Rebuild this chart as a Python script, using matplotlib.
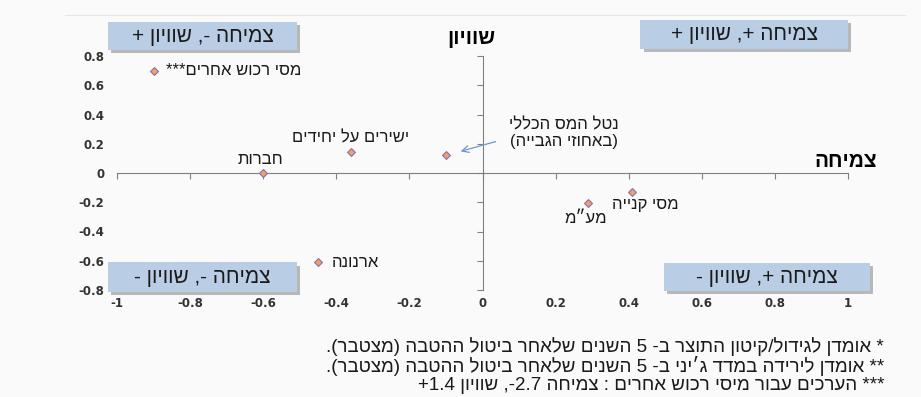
import re
import matplotlib
matplotlib.use("Agg")
import matplotlib.pyplot as plt
import matplotlib.patheffects as pe
from matplotlib.patches import Rectangle
from matplotlib.lines import Line2D

plt.rcParams['font.family'] = ['Liberation Sans', 'DejaVu Sans']

# data: growth (x) vs equality (y)
labels = ["מסי רכוש אחרים***", "ישירים על יחידים", "חברות", "נטל המס הכללי",
          "ארנונה", "מסי קנייה", "מע״מ"]
growth = [-0.90, -0.36, -0.60, -0.10, -0.45, 0.41, 0.29]
equality = [0.70, 0.145, 0.0, 0.12, -0.61, -0.13, -0.205]

xticks = [-1, -0.8, -0.6, -0.4, -0.2, 0, 0.2, 0.4, 0.6, 0.8, 1]
yticks = [-0.8, -0.6, -0.4, -0.2, 0, 0.2, 0.4, 0.6, 0.8]

quadrants = ["צמיחה -, שוויון +", "צמיחה +, שוויון +",
             "צמיחה -, שוויון -", "צמיחה +, שוויון -"]
notes = ["* אומדן לגידול/קיטון התוצר ב- 5 השנים שלאחר ביטול ההטבה (מצטבר).",
         "** אומדן לירידה במדד ג׳יני ב- 5 השנים שלאחר ביטול ההטבה (מצטבר).",
         "*** הערכים עבור מיסי רכוש אחרים : צמיחה -2.7, שוויון +1.4"]


def vis(s):
    # crude logical -> visual order for hebrew text (numbers kept LTR)
    lines = []
    for line in s.split("\n"):
        parts = re.split(r'([+-]?\d+(?:\.\d+)?)', line)
        out = []
        for i, p in enumerate(parts):
            if i % 2 == 1:
                out.append(p)
            else:
                out.append(p[::-1].translate(str.maketrans('()', ')(')))
        lines.append(''.join(reversed(out)))
    return "\n".join(lines)


bg = '#fafafa'
fig = plt.figure(figsize=(9.21, 3.97), dpi=100, facecolor=bg)
ax = fig.add_axes([117/921, 1-290/397, 731/921, 234/397], facecolor=bg)

ax.scatter(growth, equality, marker='D', s=16, fc='#f2a064', ec='#8470b0', lw=0.8, zorder=3)

ax.set_xlim(-1, 1)
ax.set_ylim(-0.8, 0.8)
for s in ['top', 'right']:
    ax.spines[s].set_visible(False)
ax.spines['bottom'].set_position(('data', 0))
ax.spines['left'].set_position(('data', 0))
ax.spines['bottom'].set_color('#808080')
ax.spines['left'].set_color('#808080')
ax.set_xticks(xticks)
ax.set_yticks(yticks)
ax.tick_params(direction='out', length=4, color='#808080', labelbottom=False, labelleft=False)

# tick labels at the outer edges (Excel "low" labels)
secx = ax.secondary_xaxis('bottom')
secx.set_xticks(xticks, [f'{v:g}' for v in xticks])
secx.spines['bottom'].set_visible(False)
secx.tick_params(length=0, pad=5, labelsize=8.5, labelcolor='#333333')
secy = ax.secondary_yaxis('left')
secy.set_yticks(yticks, [f'{v:g}' for v in yticks])
secy.spines['left'].set_visible(False)
secy.tick_params(length=0, pad=9, labelsize=8.5, labelcolor='#333333')
for t in secx.get_xticklabels() + secy.get_yticklabels():
    t.set_family('DejaVu Sans')
    t.set_fontweight('bold')

# point labels
lab_font = dict(fontsize=12, color='#1a1a1a')
offsets = [(9, 0, 'left'), (0, 10, 'center'), (-2, 10, 'center'), None,
           (10, 0, 'left'), (9, -9, 'center'), (-2, -11, 'center')]
for name, x, y, off in zip(labels, growth, equality, offsets):
    if off is None:
        continue
    ax.annotate(vis(name), (x, y), xytext=off[:2], textcoords='offset points',
                ha=off[2], va='center', **lab_font)

# total tax burden label with arrow
i = 3
ax.annotate(vis(labels[i] + "\n(באחוזי הגבייה)"), (growth[i], equality[i]),
            xytext=(85, 16), textcoords='offset points', ha='center', va='center',
            linespacing=1.05,
            arrowprops=dict(arrowstyle='->', color='#6f97cf', lw=0.9,
                            relpos=(0, 0.35), shrinkA=8, shrinkB=11),
            **lab_font)

# axis titles
ax.text(0.485, 1.075, vis("שוויון"), transform=ax.transAxes, ha='center', va='center',
        fontsize=15, fontweight='bold')
ax.text(1.04, 0.55, vis("צמיחה"), transform=ax.transAxes, ha='right', va='center',
        fontsize=15, fontweight='bold')

# quadrant boxes
boxes = [(-0.0123, 1.0256, 0.2585, 0.1197),
         (0.7155, 1.030, 0.2845, 0.124),
         (-0.0123, -0.0085, 0.2585, 0.128),
         (0.748, -0.0043, 0.282, 0.1197)]
for q, (bx, by, bw, bh) in zip(quadrants, boxes):
    r = Rectangle((bx, by), bw, bh, transform=ax.transAxes, clip_on=False,
                  fc='#b9cde5', ec='none', zorder=4,
                  path_effects=[pe.SimplePatchShadow(offset=(2.5, -2.5), shadow_rgbFace='#555555', alpha=0.4),
                                pe.Normal()])
    ax.add_patch(r)
    ax.text(bx + bw/2, by + bh/2, vis(q), transform=ax.transAxes, ha='center', va='center',
            fontsize=15, color='#1a1a1a', zorder=5)

# footnotes
for k, n in enumerate(notes):
    fig.text(884/921, 1 - (347 + 19*k)/397, vis(n), ha='right', va='center',
             fontsize=13.5, color='#1a1a1a')

fig.add_artist(Line2D([65/921, 905/921], [1-15/397, 1-15/397], color='#e6e6e6', lw=0.8))

fig.savefig("out.png", dpi=100, facecolor=bg)
